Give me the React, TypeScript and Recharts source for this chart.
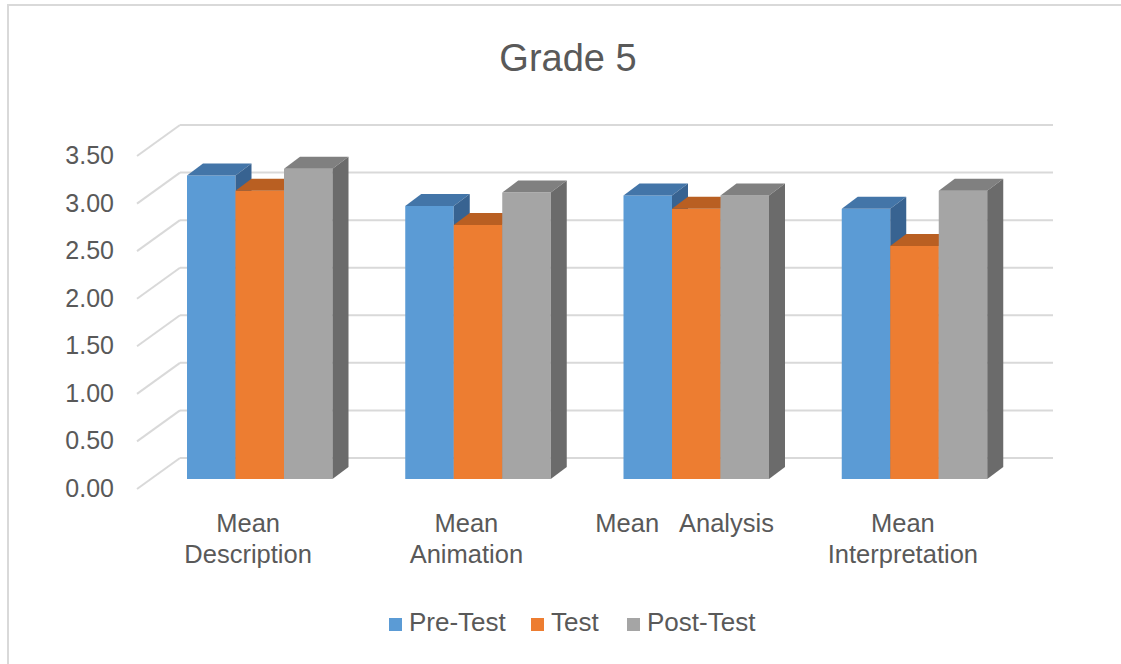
import { Bar, BarChart, CartesianGrid, XAxis, YAxis } from "recharts";

const CATEGORIES = ["Mean Description", "Mean Animation", "Mean   Analysis", "Mean Interpretation"];
// how each category label wraps under the axis
const CATEGORY_LINES = [["Mean", "Description"], ["Mean", "Animation"], ["Mean   Analysis"], ["Mean", "Interpretation"]];
const PRE_TEST = [3.19, 2.87, 2.98, 2.84];
const TEST = [3.03, 2.67, 2.84, 2.45];
const POST_TEST = [3.26, 3.01, 2.98, 3.03];
const Y_TICKS = [0, 0.5, 1, 1.5, 2, 2.5, 3, 3.5];

const SERIES = [
  { key: "pre", name: "Pre-Test", front: "#5b9bd5", top: "#4375a8", side: "#386391" },
  { key: "test", name: "Test", front: "#ed7d31", top: "#b95f22", side: "#a8541c" },
  { key: "post", name: "Post-Test", front: "#a5a5a5", top: "#808080", side: "#6b6b6b" },
];
// legend slot widths (square + label + gap), so the squares line up with the original
const LEGEND_SLOTS = [142, 96, 130];

const data = CATEGORIES.map((name, i) => ({ name, pre: PRE_TEST[i], test: TEST[i], post: POST_TEST[i] }));

const FONT = '"Liberation Sans", Arial, sans-serif';
const TEXT = "#595959";
const GRID = "#d9d9d9";
// oblique depth of the bars, and where the back wall / front edge sit relative to the bar plane
const DX = 16;
const DY = 12;
const BACK = { dx: 29, dy: -21 };
const FRONT = { dx: -14, dy: 10 };

function make3DBar(front: string, top: string, side: string) {
  return (props: any) => {
    const { x, y, width, height } = props;
    if (height == null || height <= 0) return <g />;
    const r = x + width;
    const b = y + height;
    return (
      <g>
        <rect x={x} y={y} width={width} height={height} fill={front} />
        <polygon points={`${x},${y} ${x + DX},${y - DY} ${r + DX},${y - DY} ${r},${y}`} fill={top} />
        <polygon points={`${r},${y} ${r + DX},${y - DY} ${r + DX},${b - DY} ${r},${b}`} fill={side} />
      </g>
    );
  };
}

function GridLine(props: any) {
  const { x1, x2, y1 } = props;
  return (
    <g key={props.key}>
      <line x1={x1 + FRONT.dx} y1={y1 + FRONT.dy} x2={x1 + BACK.dx} y2={y1 + BACK.dy} stroke={GRID} strokeWidth={2} />
      <line x1={x1 + BACK.dx} y1={y1 + BACK.dy} x2={x2 + BACK.dx} y2={y1 + BACK.dy} stroke={GRID} strokeWidth={2} />
    </g>
  );
}

function YTick(props: any) {
  const { y, payload } = props;
  return (
    <text x={114} y={y + 9} textAnchor="end" dominantBaseline="central" fontSize={25} fill={TEXT} fontFamily={FONT}>
      {Number(payload.value).toFixed(2)}
    </text>
  );
}

function XTick(props: any) {
  const { x, payload } = props;
  const lines = CATEGORY_LINES[CATEGORIES.indexOf(payload.value)] ?? [payload.value];
  return (
    <g>
      {lines.map((line, i) => (
        <text
          key={i}
          x={x - 12}
          y={523 + i * 31}
          textAnchor="middle"
          dominantBaseline="central"
          fontSize={25.5}
          fill={TEXT}
          fontFamily={FONT}
          style={{ whiteSpace: "pre" }}
        >
          {line}
        </text>
      ))}
    </g>
  );
}

export default function App() {
  return (
    <div style={{ position: "fixed", left: 0, top: 0, width: 1121, height: 664, background: "#fff", fontFamily: FONT }}>
      <div
        style={{
          position: "absolute",
          left: 7,
          top: 4,
          right: 0,
          bottom: 0,
          borderTop: `2px solid ${GRID}`,
          borderLeft: `2px solid ${GRID}`,
        }}
      />
      <svg width={1121} height={100} style={{ position: "absolute", left: 0, top: 0 }}>
        <text x={568} y={71} textAnchor="middle" fontSize={38} fill={TEXT} fontFamily={FONT}>
          Grade 5
        </text>
      </svg>
      <div style={{ position: "absolute", left: 0, top: 0 }}>
        <BarChart width={1121} height={664} data={data} margin={{ top: 146, right: 97, bottom: 0, left: 0 }} barGap={0}>
          <CartesianGrid vertical={false} horizontal={GridLine} />
          <XAxis dataKey="name" height={185} axisLine={false} tickLine={false} interval={0} tick={XTick} />
          <YAxis
            domain={[0, 3.5]}
            ticks={Y_TICKS}
            width={151}
            axisLine={false}
            tickLine={false}
            tick={YTick}
          />
          {SERIES.map((s) => (
            <Bar
              key={s.key}
              dataKey={s.key}
              name={s.name}
              barSize={48.5}
              isAnimationActive={false}
              shape={make3DBar(s.front, s.top, s.side)}
            />
          ))}
        </BarChart>
      </div>
      <div
        style={{
          position: "absolute",
          left: 389,
          top: 607,
          display: "flex",
          alignItems: "center",
          fontSize: 26,
          lineHeight: "30px",
          color: TEXT,
        }}
      >
        {SERIES.map((s, i) => (
          <div key={s.key} style={{ display: "flex", alignItems: "center", width: LEGEND_SLOTS[i] }}>
            <span style={{ width: 13, height: 13, background: s.front, marginRight: 7, marginTop: 5 }} />
            <span>{s.name}</span>
          </div>
        ))}
      </div>
    </div>
  );
}
